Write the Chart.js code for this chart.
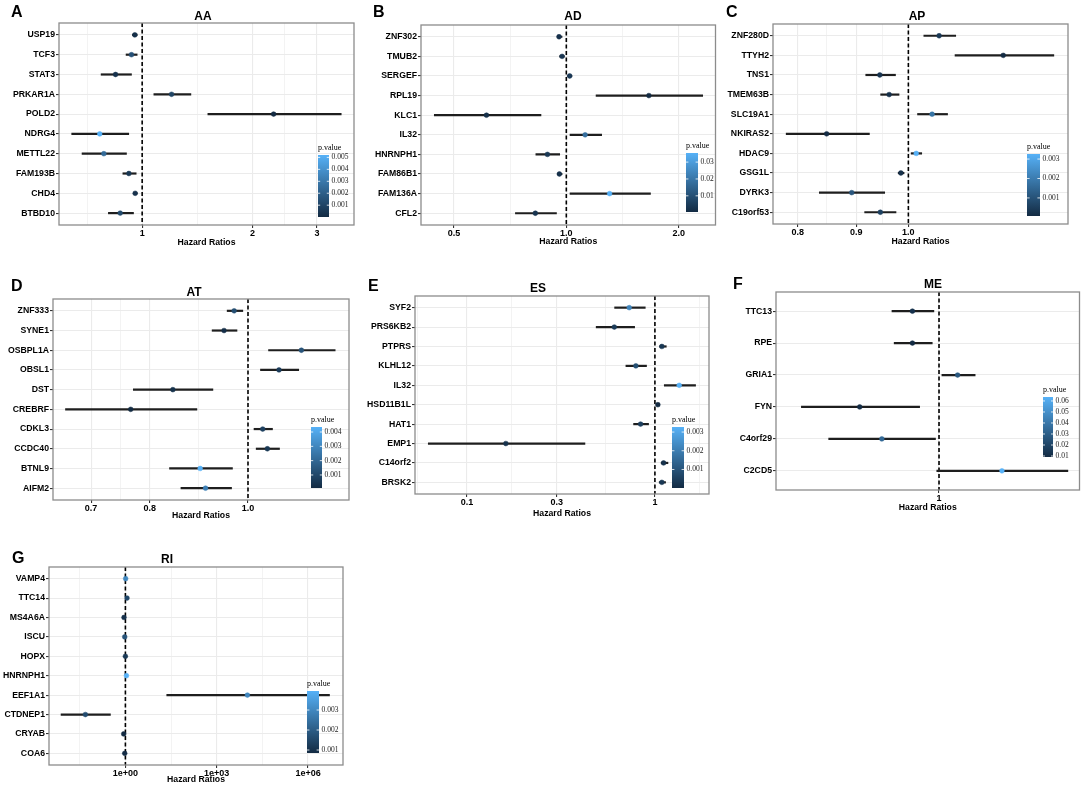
<!DOCTYPE html>
<html>
<head>
<meta charset="utf-8">
<title>Hazard ratio forest plots</title>
<script src="https://cdn.jsdelivr.net/npm/chart.js@4.4.1/dist/chart.umd.min.js"></script>
<style>
  html, body { margin: 0; padding: 0; background: #fff; }
  #page { position: relative; width: 1084px; height: 785px; overflow: hidden; background: #fff; }
  #page canvas { position: absolute; }
  .tag { position: absolute; font: bold 16px "Liberation Sans", Arial, sans-serif; line-height: 16px; color: #000; }
</style>
</head>
<body>
<div id="page">
  <canvas id="panelA"></canvas>
  <canvas id="panelB"></canvas>
  <canvas id="panelC"></canvas>
  <canvas id="panelD"></canvas>
  <canvas id="panelE"></canvas>
  <canvas id="panelF"></canvas>
  <canvas id="panelG"></canvas>
  <div class="tag" style="left:11px;top:4px">A</div>
  <div class="tag" style="left:373px;top:4px">B</div>
  <div class="tag" style="left:726px;top:4px">C</div>
  <div class="tag" style="left:11px;top:278px">D</div>
  <div class="tag" style="left:368px;top:278px">E</div>
  <div class="tag" style="left:733px;top:276px">F</div>
  <div class="tag" style="left:12px;top:550px">G</div>
</div>
<script>
// AA
var aaGenes = ['USP19', 'TCF3', 'STAT3', 'PRKAR1A', 'POLD2', 'NDRG4', 'METTL22', 'FAM193B', 'CHD4', 'BTBD10'];
var aaHR = [0.955, 0.935, 0.846, 1.203, 2.284, 0.766, 0.786, 0.920, 0.957, 0.871];
var aaLow = [0.939, 0.902, 0.771, 1.074, 1.508, 0.641, 0.684, 0.884, 0.945, 0.807];
var aaHigh = [0.971, 0.971, 0.937, 1.361, 3.50, 0.921, 0.908, 0.965, 0.971, 0.949];
var aaP = [0.0002, 0.0015, 0.0003, 0.001, 0.00001, 0.0052, 0.0025, 0.0005, 0.0003, 0.0012];
var aaBreaks = [0.5, 1, 2, 3];
var aaBreakLabels = ['0.5', '1', '2', '3'];
var aaPBreaks = [0.001, 0.002, 0.003, 0.004, 0.005];

// AD
var adGenes = ['ZNF302', 'TMUB2', 'SERGEF', 'RPL19', 'KLC1', 'IL32', 'HNRNPH1', 'FAM86B1', 'FAM136A', 'CFL2'];
var adHR = [0.956, 0.974, 1.021, 1.664, 0.611, 1.123, 0.890, 0.958, 1.306, 0.826];
var adLow = [0.943, 0.958, 1.006, 1.199, 0.442, 1.021, 0.827, 0.944, 1.021, 0.729];
var adHigh = [0.976, 0.990, 1.037, 2.324, 0.857, 1.246, 0.962, 0.976, 1.684, 0.943];
var adP = [0.002, 0.003, 0.004, 0.0004, 0.002, 0.018, 0.004, 0.002, 0.0354, 0.003];
var adBreaks = [0.5, 1, 2];
var adBreakLabels = ['0.5', '1.0', '2.0'];
var adPBreaks = [0.01, 0.02, 0.03];

// AP
var apGenes = ['ZNF280D', 'TTYH2', 'TNS1', 'TMEM63B', 'SLC19A1', 'NKIRAS2', 'HDAC9', 'GSG1L', 'DYRK3', 'C19orf53'];
var apHR = [1.064, 1.211, 0.944, 0.962, 1.049, 0.848, 1.016, 0.985, 0.892, 0.945];
var apLow = [1.031, 1.098, 0.917, 0.945, 1.018, 0.781, 1.005, 0.979, 0.835, 0.915];
var apHigh = [1.101, 1.342, 0.975, 0.982, 1.083, 0.925, 1.028, 0.992, 0.954, 0.976];
var apP = [0.0004, 0.00007, 0.0003, 0.0002, 0.0018, 0.0001, 0.00326, 0.0002, 0.0011, 0.0006];
var apBreaks = [0.8, 0.9, 1.0];
var apBreakLabels = ['0.8', '0.9', '1.0'];
var apPBreaks = [0.001, 0.002, 0.003];

// AT
var atGenes = ['ZNF333', 'SYNE1', 'OSBPL1A', 'OBSL1', 'DST', 'CREBRF', 'CDKL3', 'CCDC40', 'BTNL9', 'AIFM2'];
var atHR = [0.969, 0.947, 1.129, 1.073, 0.843, 0.766, 1.034, 1.045, 0.897, 0.908];
var atLow = [0.953, 0.921, 1.047, 1.028, 0.770, 0.660, 1.013, 1.018, 0.836, 0.858];
var atHigh = [0.989, 0.976, 1.220, 1.123, 0.924, 0.891, 1.058, 1.075, 0.966, 0.964];
var atP = [0.0012, 0.0002, 0.0014, 0.0006, 0.0003, 0.00009, 0.0008, 0.0005, 0.00435, 0.0028];
var atBreaks = [0.7, 0.8, 1.0];
var atBreakLabels = ['0.7', '0.8', '1.0'];
var atPBreaks = [0.001, 0.002, 0.003, 0.004];

// ES
var esGenes = ['SYF2', 'PRS6KB2', 'PTPRS', 'KLHL12', 'IL32', 'HSD11B1L', 'HAT1', 'EMP1', 'C14orf2', 'BRSK2'];
var esHR = [0.730, 0.608, 1.089, 0.792, 1.347, 1.037, 0.839, 0.161, 1.112, 1.089];
var esLow = [0.608, 0.485, 1.054, 0.698, 1.117, 1.012, 0.767, 0.062, 1.076, 1.050];
var esHigh = [0.892, 0.783, 1.154, 0.906, 1.652, 1.063, 0.929, 0.426, 1.178, 1.144];
var esP = [0.0022, 0.0004, 0.0003, 0.0009, 0.00327, 0.00001, 0.0005, 0.0002, 0.0002, 0.0003];
var esBreaks = [0.03, 0.1, 0.3, 1, 3];
var esBreakLabels = ['0.03', '0.1', '0.3', '1', '3'];
var esPBreaks = [0.001, 0.002, 0.003];

// ME
var meGenes = ['TTC13', 'RPE', 'GRIA1', 'FYN', 'C4orf29', 'C2CD5'];
var meHR = [0.920, 0.920, 1.060, 0.780, 0.836, 1.218];
var meLow = [0.862, 0.868, 1.008, 0.649, 0.707, 0.992];
var meHigh = [0.985, 0.980, 1.121, 0.942, 0.990, 1.499];
var meP = [0.012, 0.0091, 0.028, 0.010, 0.034, 0.0636];
var meBreaks = [1];
var meBreakLabels = ['1'];
var mePBreaks = [0.01, 0.02, 0.03, 0.04, 0.05, 0.06];

// RI
var riGenes = ['VAMP4', 'TTC14', 'MS4A6A', 'ISCU', 'HOPX', 'HNRNPH1', 'EEF1A1', 'CTDNEP1', 'CRYAB', 'COA6'];
var riHR = [1.02, 1.13, 0.90, 0.95, 1.0, 1.08, 10200, 0.0485, 0.88, 0.95];
var riLow = [0.97, 1.04, 0.84, 0.91, 0.96, 1.03, 22.3, 0.0075, 0.82, 0.91];
var riHigh = [1.07, 1.22, 0.97, 0.99, 1.04, 1.13, 5.2e6, 0.33, 0.95, 0.99];
var riP = [0.003, 0.0015, 0.001, 0.0018, 0.0012, 0.00395, 0.003, 0.0016, 0.00085, 0.0009];
var riBreaks = [0.001, 1, 1000, 1e6, 1e9];
var riBreakLabels = ['1e-03', '1e+00', '1e+03', '1e+06', '1e+09'];
var riPBreaks = [0.001, 0.002, 0.003];

// panel layout (page pixels): canvas box, plot area, title spot, colour bar
var panels = [
    { canvas: 'panelA', box: [0, 0, 360, 255], area: [59, 23, 354, 225], title: 'AA', titleX: 203, titleY: 17, axisTitleY: 243,
      xMin: 0.593, xMax: 3.785, genes: aaGenes, hr: aaHR, low: aaLow, high: aaHigh, p: aaP,
      breaks: aaBreaks, breakLabels: aaBreakLabels, pBreaks: aaPBreaks, bar: [318, 155, 329, 217] },
    { canvas: 'panelB', box: [360, 0, 360, 255], area: [421, 25, 718, 225], title: 'AD', titleX: 573, titleY: 17, axisTitleY: 242,
      xMin: 0.408, xMax: 2.51, genes: adGenes, hr: adHR, low: adLow, high: adHigh, p: adP,
      breaks: adBreaks, breakLabels: adBreakLabels, pBreaks: adPBreaks, bar: [686, 153, 698, 212] },
    { canvas: 'panelC', box: [720, 0, 364, 255], area: [773, 24, 1068, 224], title: 'AP', titleX: 917, titleY: 17, axisTitleY: 242,
      xMin: 0.761, xMax: 1.38, genes: apGenes, hr: apHR, low: apLow, high: apHigh, p: apP,
      breaks: apBreaks, breakLabels: apBreakLabels, pBreaks: apPBreaks, bar: [1027, 154, 1040, 216] },
    { canvas: 'panelD', box: [0, 255, 360, 270], area: [53, 299, 349, 500], title: 'AT', titleX: 194, titleY: 293, axisTitleY: 516,
      xMin: 0.642, xMax: 1.258, genes: atGenes, hr: atHR, low: atLow, high: atHigh, p: atP,
      breaks: atBreaks, breakLabels: atBreakLabels, pBreaks: atPBreaks, bar: [311, 427, 322, 488] },
    { canvas: 'panelE', box: [360, 255, 360, 270], area: [415, 296, 709, 494], title: 'ES', titleX: 538, titleY: 289, axisTitleY: 514,
      xMin: 0.0529, xMax: 1.94, genes: esGenes, hr: esHR, low: esLow, high: esHigh, p: esP,
      breaks: esBreaks, breakLabels: esBreakLabels, pBreaks: esPBreaks, bar: [672, 427, 684, 488] },
    { canvas: 'panelF', box: [720, 255, 364, 270], area: [776, 292, 1080, 490], title: 'ME', titleX: 933, titleY: 285, axisTitleY: 508,
      xMin: 0.623, xMax: 1.553, genes: meGenes, hr: meHR, low: meLow, high: meHigh, p: meP,
      breaks: meBreaks, breakLabels: meBreakLabels, pBreaks: mePBreaks, bar: [1043, 397, 1053, 457] },
    { canvas: 'panelG', box: [0, 510, 360, 280], area: [49, 567, 343, 765], title: 'RI', titleX: 167, titleY: 560, axisTitleY: 780,
      xMin: 0.00309, xMax: 1.41e7, genes: riGenes, hr: riHR, low: riLow, high: riHigh, p: riP,
      breaks: riBreaks, breakLabels: riBreakLabels, pBreaks: riPBreaks, bar: [307, 691, 319, 753] }
];

var sansFont = '"Liberation Sans", Arial, Helvetica, sans-serif';
var serifFont = '"Liberation Serif", "Times New Roman", serif';
var lowColor = [19, 43, 67];
var highColor = [86, 177, 247];

function pColor(p, lo, hi) {
    var t = hi > lo ? (p - lo) / (hi - lo) : 0;
    t = Math.max(0, Math.min(1, t));
    var c = lowColor.map(function (v, k) { return Math.round(v + (highColor[k] - v) * t); });
    return 'rgb(' + c.join(',') + ')';
}

// major breaks plus ggplot-style minor lines halfway (in log space)
function xTicks(breaks, labels, min, max) {
    var out = [];
    for (var i = 0; i < breaks.length; i++) {
        if (breaks[i] >= min && breaks[i] <= max) out.push({ value: breaks[i], lbl: labels[i] });
        if (i < breaks.length - 1) {
            var m = Math.sqrt(breaks[i] * breaks[i + 1]);
            if (m >= min && m <= max) out.push({ value: m, lbl: '', minor: true });
        }
    }
    return out;
}

function decor(cfg, pLo, pHi) {
    var L = cfg.box[0], T = cfg.box[1];
    return {
        id: 'decor',
        beforeDatasetsDraw: function (chart) {
            // dashed reference line at HR = 1
            var ctx = chart.ctx, a = chart.chartArea;
            var x = chart.scales.x.getPixelForValue(1);
            ctx.save();
            ctx.strokeStyle = '#000';
            ctx.lineWidth = 1.6;
            ctx.setLineDash([4, 2.5]);
            ctx.beginPath();
            ctx.moveTo(x, a.top);
            ctx.lineTo(x, a.bottom);
            ctx.stroke();
            ctx.restore();
        },
        afterDraw: function (chart) {
            var ctx = chart.ctx, a = chart.chartArea;
            ctx.save();
            // panel border
            ctx.strokeStyle = '#8c8c8c';
            ctx.lineWidth = 1.3;
            ctx.strokeRect(a.left, a.top, a.right - a.left, a.bottom - a.top);
            // title
            ctx.fillStyle = '#000';
            ctx.font = 'bold 12px ' + sansFont;
            ctx.textAlign = 'center';
            ctx.textBaseline = 'middle';
            ctx.fillText(cfg.title, cfg.titleX - L, cfg.titleY - T);
            // colour bar legend
            var bx0 = cfg.bar[0] - L, by0 = cfg.bar[1] - T, bx1 = cfg.bar[2] - L, by1 = cfg.bar[3] - T;
            var g = ctx.createLinearGradient(0, by0, 0, by1);
            g.addColorStop(0, pColor(pHi, pLo, pHi));
            g.addColorStop(1, pColor(pLo, pLo, pHi));
            ctx.fillStyle = g;
            ctx.fillRect(bx0, by0, bx1 - bx0, by1 - by0);
            ctx.font = '7.5px ' + serifFont;
            ctx.textAlign = 'left';
            ctx.strokeStyle = '#fff';
            ctx.lineWidth = 0.8;
            var tw = (bx1 - bx0) / 5;
            cfg.pBreaks.forEach(function (b) {
                var y = by1 - (b - pLo) / (pHi - pLo) * (by1 - by0);
                ctx.beginPath();
                ctx.moveTo(bx0, y); ctx.lineTo(bx0 + tw, y);
                ctx.moveTo(bx1 - tw, y); ctx.lineTo(bx1, y);
                ctx.stroke();
                ctx.fillStyle = '#222';
                ctx.fillText(String(b), bx1 + 2.5, y);
            });
            ctx.font = '8px ' + serifFont;
            ctx.fillStyle = '#000';
            ctx.fillText('p.value', bx0, by0 - 7);
            ctx.restore();
        }
    };
}

function buildPanel(cfg) {
    var el = document.getElementById(cfg.canvas);
    var L = cfg.box[0], T = cfg.box[1], W = cfg.box[2], H = cfg.box[3];
    el.width = W;
    el.height = H;
    el.style.left = L + 'px';
    el.style.top = T + 'px';
    el.style.width = W + 'px';
    el.style.height = H + 'px';

    var yW = cfg.area[0] - L;
    var xH = cfg.axisTitleY + 5.3 - cfg.area[3];
    var pLo = Math.min.apply(null, cfg.p);
    var pHi = Math.max.apply(null, cfg.p);
    var n = cfg.genes.length;

    var points = [], colors = [], ci = [];
    for (var i = 0; i < n; i++) {
        points.push({ x: cfg.hr[i], y: i + 1 });
        colors.push(pColor(cfg.p[i], pLo, pHi));
        ci.push({ x: cfg.low[i], y: i + 1 }, { x: cfg.high[i], y: i + 1 });
    }
    var ticks = xTicks(cfg.breaks, cfg.breakLabels, cfg.xMin, cfg.xMax);

    var labelFont = { family: sansFont, size: 8.7, weight: 'bold' };

    return new Chart(el, {
        type: 'scatter',
        data: {
            datasets: [{
                data: points,
                pointRadius: 2.4,
                pointBackgroundColor: colors,
                pointBorderColor: colors,
                pointBorderWidth: 0.5
            }, {
                type: 'line',
                data: ci,
                borderColor: '#1e1e1e',
                borderWidth: 2.2,
                pointRadius: 0,
                fill: false,
                tension: 0,
                segment: {
                    borderColor: function (s) {
                        return s.p0.parsed.y === s.p1.parsed.y ? '#1e1e1e' : 'rgba(0,0,0,0)';
                    }
                }
            }]
        },
        options: {
            responsive: false,
            animation: false,
            events: [],
            layout: {
                padding: {
                    left: 0,
                    top: cfg.area[1] - T,
                    right: L + W - cfg.area[2],
                    bottom: T + H - cfg.area[3] - xH
                }
            },
            plugins: {
                legend: { display: false },
                tooltip: { enabled: false }
            },
            scales: {
                x: {
                    type: 'logarithmic',
                    min: cfg.xMin,
                    max: cfg.xMax,
                    afterBuildTicks: function (s) {
                        s.ticks = ticks.map(function (t) { return Object.assign({}, t); });
                    },
                    afterFit: function (s) { s.height = xH; },
                    border: { display: false },
                    grid: {
                        color: '#ebebeb',
                        lineWidth: function (c) { return c.tick && c.tick.minor ? 0.6 : 1.1; },
                        tickColor: function (c) { return c.tick && c.tick.minor ? 'rgba(0,0,0,0)' : '#333'; },
                        tickLength: 3,
                        drawTicks: true
                    },
                    ticks: {
                        autoSkip: false,
                        maxRotation: 0,
                        minRotation: 0,
                        padding: 0,
                        color: '#000',
                        font: { family: sansFont, size: 9, weight: 'bold' },
                        callback: function (v, i, t) { return t[i].lbl; }
                    },
                    title: {
                        display: true,
                        text: 'Hazard Ratios',
                        color: '#000',
                        font: labelFont,
                        padding: 0
                    }
                },
                y: {
                    type: 'linear',
                    reverse: true,
                    min: 0.4,
                    max: n + 0.6,
                    afterBuildTicks: function (s) {
                        s.ticks = cfg.genes.map(function (g, k) { return { value: k + 1 }; });
                    },
                    afterFit: function (s) { s.width = yW; },
                    border: { display: false },
                    grid: {
                        color: '#ebebeb',
                        lineWidth: 1.1,
                        tickColor: '#333',
                        tickLength: 3,
                        drawTicks: true
                    },
                    ticks: {
                        autoSkip: false,
                        padding: 1,
                        color: '#000',
                        font: labelFont,
                        callback: function (v) { return cfg.genes[Math.round(v) - 1]; }
                    }
                }
            }
        },
        plugins: [decor(cfg, pLo, pHi)]
    });
}

window.onload = function () {
    panels.forEach(buildPanel);
};
</script>
</body>
</html>
